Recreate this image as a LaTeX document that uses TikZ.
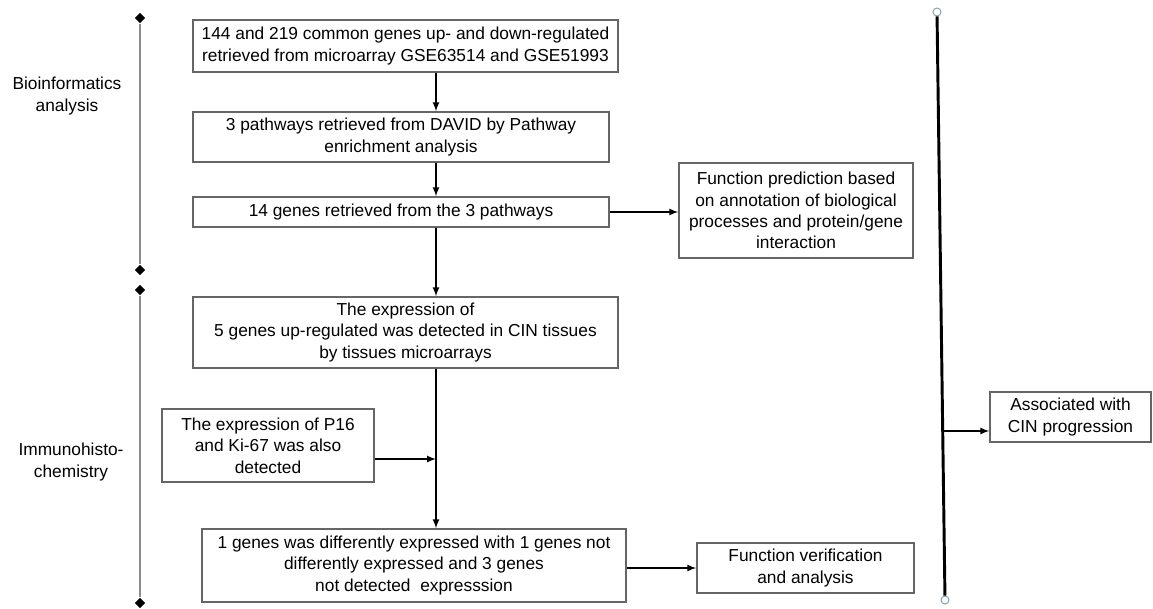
\documentclass[tikz,border=0pt]{standalone}
\usepackage{fontspec}
\setmainfont{Liberation Sans}
\usetikzlibrary{shapes.geometric}
\tikzstyle{stepbox}=[draw=black!60,line width=1.1pt,align=center,inner sep=2pt,text=black]
\tikzstyle{arrow}=[->,>=latex,line width=1.3pt]
\tikzstyle{tick}=[diamond,fill=black,minimum size=8pt,inner sep=0pt]
\tikzstyle{endcap}=[circle,draw=gray!70!cyan,fill=white,minimum size=6pt,inner sep=0pt,line width=0.7pt]

\begin{document}
\begin{tikzpicture}[x=0.75pt,y=-0.75pt,font=\fontsize{13}{16}\selectfont]
    \useasboundingbox (0,0) rectangle (1153,609);
    % stage bars on the left
    \node[tick] (D1) at (140,18)  {};
    \node[tick] (D2) at (140,270) {};
    \node[tick] (D3) at (140,290) {};
    \node[tick] (D4) at (140,603) {};
    \draw[black!45,line width=1.5pt] (D1) -- (D2);
    \draw[black!45,line width=1.5pt] (D3) -- (D4);
    \node[align=center] (Bio) at (67,96) {Bioinformatics\\analysis};
    \node[align=center] (Imm) at (71,462) {Immunohisto-\\chemistry};

    % flow boxes
    \node[stepbox,minimum width=318.75pt,minimum height=39pt] (B1) at (405.5,46)
        {144 and 219 common genes up- and down-regulated\\retrieved from microarray GSE63514 and GSE51993};
    \node[stepbox,minimum width=312pt,minimum height=37.5pt] (B2) at (401,137)
        {3 pathways retrieved from DAVID by Pathway\\enrichment analysis};
    \node[stepbox,minimum width=312pt,minimum height=22.5pt] (B3) at (401,212)
        {14 genes retrieved from the 3 pathways};
    \node[stepbox,minimum width=175.5pt,minimum height=71.25pt] (B4) at (796,210.5)
        {Function prediction based\\on annotation of biological\\processes and protein/gene\\interaction};
    \node[stepbox,minimum width=318.75pt,minimum height=53.25pt] (B5) at (405.5,332.5)
        {The expression of\\5 genes up-regulated was detected in CIN tissues\\by tissues microarrays};
    \node[stepbox,minimum width=159pt,minimum height=54.75pt] (B6) at (268,445.5)
        {The expression of P16\\and Ki-67 was also\\detected};
    \node[stepbox,minimum width=318pt,minimum height=54.75pt] (B7) at (414,565.5)
        {1 genes was differently expressed with 1 genes not\\differently expressed and 3 genes\\not detected\ \ expresssion};
    \node[stepbox,minimum width=162.75pt,minimum height=37.5pt] (B8) at (805.5,568)
        {Function verification\\and analysis};
    \node[stepbox,minimum width=120.75pt,minimum height=37.5pt] (B9) at (1070.5,417)
        {Associated with\\CIN progression};

    % connectors
    \coordinate (spine) at (436,0);
    \coordinate (join) at (436,459);
    \draw[arrow] (B1.south -| spine) -- (B2.north -| spine);
    \draw[arrow] (B2.south -| spine) -- (B3.north -| spine);
    \draw[arrow] (B3.south -| spine) -- (B5.north -| spine);
    \draw[arrow] (B5.south -| spine) -- (B7.north -| spine);
    \draw[arrow] (B6.east |- join) -- (join);
    \draw[arrow] (B3.east) -- (B3.east -| B4.west);
    \draw[arrow] (B7.east |- B8.west) -- (B8.west);

    % outcome bar on the right
    \node[endcap] (C1) at (937,12)  {};
    \node[endcap] (C2) at (945,600) {};
    \draw[line width=2.2pt] (C1) -- (C2);
    \coordinate (out) at (944,431);
    \draw[arrow] (out) -- (out -| B9.west);
\end{tikzpicture}
\end{document}
